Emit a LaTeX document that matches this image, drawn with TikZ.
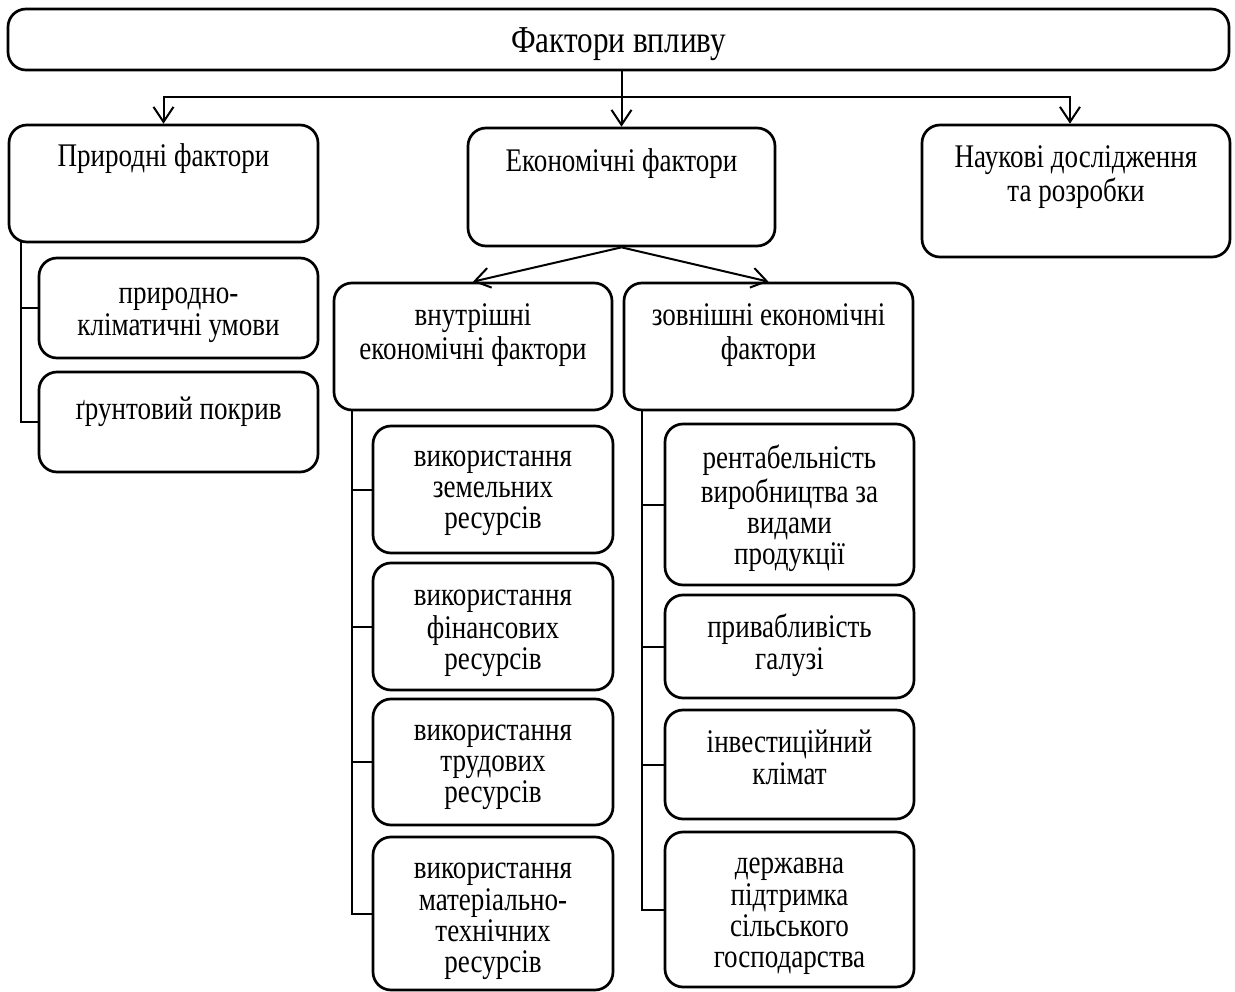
\documentclass[tikz,border=0pt]{standalone}
\usepackage{fontspec}
\setmainfont{Liberation Serif}[FakeStretch=0.82]
\usetikzlibrary{arrows.meta,fit,calc}
\newcommand\mkbox[7]{%
  \node[box, fit={(#2,#3) (#4,#5)}] (#1) {};
  \node[txt, anchor=north] (#1t) at ([yshift=-#6pt-2.5pt]#1.north) {\strut #7};}
\begin{document}
\begin{tikzpicture}[x=1pt,y=-1pt,
  box/.style={draw, line width=2.7pt, rounded corners=18pt, inner sep=0pt},
  txt/.style={inner sep=0pt, align=center, font=\fontsize{33}{31}\selectfont},
  ttl/.style={inner sep=0pt, font=\fontsize{38}{42}\selectfont},
  arr/.style={line width=2pt, -{Straight Barb[length=15pt,width=20pt,line width=2pt]}},
  conn/.style={line width=2pt}]
\useasboundingbox (0,0) rectangle (1235,992);
% title
\node[box, fit={(8,9) (1229,70)}] (top) {};
\node[ttl] (topt) at ([yshift=-4.5pt]top.center) {Фактори впливу};
% level 1
\mkbox{nat}{9}{125}{318}{242}{17.7}{Природні фактори}
\mkbox{econ}{468}{128}{775}{246}{19.7}{Економічні фактори}
\mkbox{nauk}{922}{125}{1230}{257}{19.7}{Наукові дослідження\\та розробки}
% natural sub
\mkbox{n1}{39}{258}{318}{358}{22.7}{природно-\\кліматичні умови}
\mkbox{n2}{39}{372}{318}{472}{23.7}{ґрунтовий покрив}
% economic sub
\mkbox{vn}{334}{283}{612}{410}{19.7}{внутрішні\\економічні фактори}
\mkbox{zv}{624}{283}{913}{410}{19.7}{зовнішні економічні\\фактори}
\mkbox{v1}{373}{426}{613}{553}{17.7}{використання\\земельних\\ресурсів}
\mkbox{v2}{373}{563}{613}{690}{19.4}{використання\\фінансових\\ресурсів}
\mkbox{v3}{373}{699}{613}{825}{18.7}{використання\\трудових\\ресурсів}
\mkbox{v4}{373}{837}{613}{990}{18.7}{використання\\матеріально-\\технічних\\ресурсів}
\mkbox{z1}{665}{424}{914}{585}{19.7}{рентабельність\\виробництва за\\видами\\продукції}
\mkbox{z2}{665}{595}{914}{698}{17.7}{привабливість\\галузі}
\mkbox{z3}{665}{710}{914}{819}{18.7}{інвестиційний\\клімат}
\mkbox{z4}{665}{832}{914}{987}{18.7}{державна\\підтримка\\сільського\\господарства}
% connectors
\coordinate (hub) at (620,97);
\draw[arr] (econ.north |- top.south) -- (econ.north);
\draw[arr] (hub) -| (nat.north);
\draw[arr] (hub) -| ([xshift=-6pt]nauk.north);
\draw[arr] (econ.south) -- (vn.north);
\draw[arr] (econ.south) -- (zv.north);
\coordinate (nb) at (21,242);
\draw[conn] (nb) |- (n1.west);
\draw[conn] (nb) |- (n2.west);
\coordinate (vb) at (352,410);
\foreach \b in {v1,v2,v3,v4} \draw[conn] (vb) |- (\b.west);
\coordinate (zb) at (642,410);
\foreach \b in {z1,z2,z3,z4} \draw[conn] (zb) |- (\b.west);
\end{tikzpicture}
\end{document}
